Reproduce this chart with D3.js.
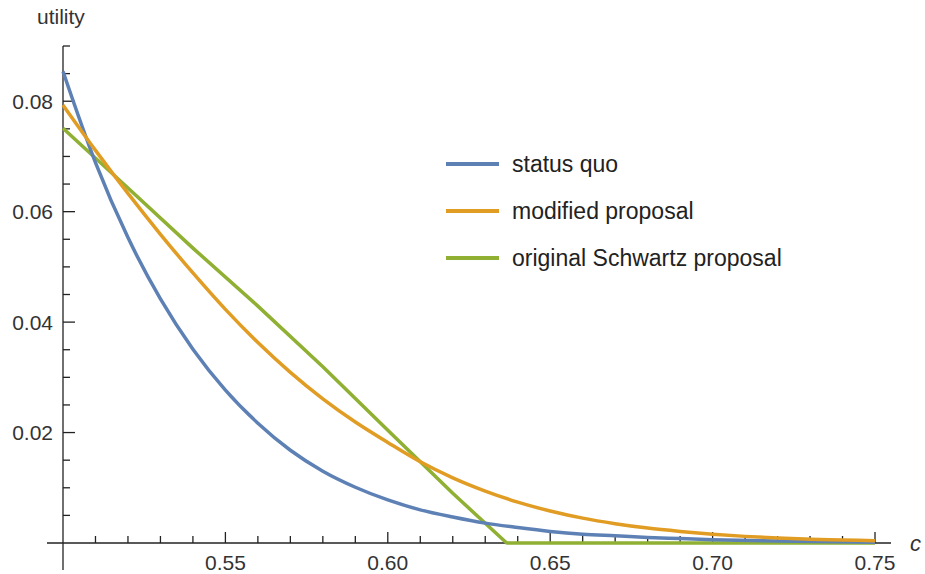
<!DOCTYPE html>
<meta charset="utf-8">
<style>
  body { margin: 0; background: #fff; }
  text { font-family: "Liberation Sans", Arial, sans-serif; }
</style>

<!-- Load d3.js -->
<script src="https://d3js.org/d3.v7.min.js"></script>

<div id="my_dataviz"></div>

<script>
// c values where curves were read
var cStatus = [0.50, 0.51, 0.52, 0.53, 0.54, 0.55, 0.56, 0.57, 0.58, 0.59, 0.60,
               0.61, 0.62, 0.63, 0.64, 0.65, 0.66, 0.67, 0.68, 0.69, 0.70, 0.72, 0.75];
var statusQuo = [0.0854, 0.0689, 0.0553, 0.0442, 0.0351, 0.0277, 0.0217, 0.0168, 0.0130, 0.0101, 0.0078,
                 0.0060, 0.0047, 0.0036, 0.0028, 0.0021, 0.0016, 0.0013, 0.0010, 0.0008, 0.0006, 0.00035, 0.00015];

var cModified = [0.50, 0.51, 0.52, 0.53, 0.54, 0.55, 0.56, 0.57, 0.58, 0.59, 0.60, 0.61, 0.62,
                 0.63, 0.64, 0.65, 0.66, 0.67, 0.68, 0.69, 0.70, 0.71, 0.72, 0.73, 0.74, 0.75];
var modified = [0.0793, 0.0711, 0.0633, 0.0559, 0.0489, 0.0423, 0.0363, 0.0309, 0.0261, 0.0219, 0.0182, 0.0147, 0.0118,
                0.0094, 0.0074, 0.0058, 0.0045, 0.0035, 0.0027, 0.0021, 0.0016, 0.0012, 0.0009, 0.0007, 0.00055, 0.0004];

var cSchwartz = [0.50, 0.52, 0.54, 0.56, 0.58, 0.60, 0.62, 0.6366, 0.75];
var schwartz = [0.0751, 0.0643, 0.0534, 0.0429, 0.0319, 0.0204, 0.0090, 0, 0];

var seriesNames = ["status quo", "modified proposal", "original Schwartz proposal"];
var seriesColors = ["#5E81B5", "#E19C24", "#8FB032"];

var xMajor = [0.55, 0.60, 0.65, 0.70, 0.75];
var yMajor = [0.02, 0.04, 0.06, 0.08];

var width = 925, height = 574;

var svg = d3.select("#my_dataviz")
  .append("svg")
    .attr("width", width)
    .attr("height", height);

var x = d3.scaleLinear().domain([0.5, 0.75]).range([63, 875]);
var y = d3.scaleLinear().domain([0, 0.09]).range([543, 46]);

// minor ticks
var xMinor = d3.range(51, 75).map(d => d / 100).filter(d => Math.round(d * 100) % 5 != 0);
var yMinor = d3.range(1, 19).filter(d => d % 4 != 0).map(d => d * 0.005);

var axisColor = "#222";

// x axis line + ticks
svg.append("line")
  .attr("x1", 47).attr("x2", 891)
  .attr("y1", y(0)).attr("y2", y(0))
  .attr("stroke", axisColor).attr("stroke-width", 1.3);

svg.append("g").selectAll("line")
  .data(xMajor.map(d => [d, 11]).concat(xMinor.map(d => [d, 7])))
  .join("line")
    .attr("x1", d => x(d[0])).attr("x2", d => x(d[0]))
    .attr("y1", y(0)).attr("y2", d => y(0) - d[1])
    .attr("stroke", axisColor).attr("stroke-width", 1.3);

svg.append("g").selectAll("text")
  .data(xMajor)
  .join("text")
    .attr("x", d => x(d))
    .attr("y", 570)
    .attr("text-anchor", "middle")
    .attr("font-size", 21)
    .attr("fill", "#333")
    .text(d => d.toFixed(2));

// y axis line + ticks
svg.append("line")
  .attr("x1", x(0.5)).attr("x2", x(0.5))
  .attr("y1", y(0.09)).attr("y2", 570)
  .attr("stroke", axisColor).attr("stroke-width", 1.3);

svg.append("g").selectAll("line")
  .data(yMajor.map(d => [d, 12]).concat(yMinor.map(d => [d, 7])))
  .join("line")
    .attr("x1", x(0.5)).attr("x2", d => x(0.5) + d[1])
    .attr("y1", d => y(d[0])).attr("y2", d => y(d[0]))
    .attr("stroke", axisColor).attr("stroke-width", 1.3);

svg.append("g").selectAll("text")
  .data(yMajor)
  .join("text")
    .attr("x", 53)
    .attr("y", d => y(d) + 7.5)
    .attr("text-anchor", "end")
    .attr("font-size", 21)
    .attr("fill", "#333")
    .text(d => d.toFixed(2));

// axis labels
svg.append("text")
  .attr("x", 37).attr("y", 24)
  .attr("font-size", 21)
  .attr("fill", "#333")
  .text("utility");

svg.append("text")
  .attr("x", 910).attr("y", 551)
  .attr("font-size", 22)
  .attr("font-style", "italic")
  .attr("fill", "#333")
  .text("c");

// curves
var allSeries = [
  cStatus.map((c, i) => [c, statusQuo[i]]),
  cModified.map((c, i) => [c, modified[i]]),
  cSchwartz.map((c, i) => [c, schwartz[i]])
];

var smooth = d3.line()
  .x(d => x(d[0]))
  .y(d => y(d[1]))
  .curve(d3.curveMonotoneX);

var straight = d3.line()
  .x(d => x(d[0]))
  .y(d => y(d[1]));

// green first so blue/orange sit above it along zero
[2, 0, 1].forEach(function(k) {
  svg.append("path")
    .datum(allSeries[k])
    .attr("fill", "none")
    .attr("stroke", seriesColors[k])
    .attr("stroke-width", 3.5)
    .attr("stroke-linejoin", "round")
    .attr("d", k == 2 ? straight : smooth);
});

// legend
var legend = svg.append("g").selectAll("g")
  .data(seriesNames)
  .join("g")
    .attr("transform", (d, i) => "translate(0," + (164 + i * 47) + ")");

legend.append("line")
  .attr("x1", 446).attr("x2", 499)
  .attr("stroke", (d, i) => seriesColors[i])
  .attr("stroke-width", 4);

legend.append("text")
  .attr("x", 512)
  .attr("y", 8)
  .attr("font-size", 23)
  .attr("fill", "#222")
  .text(d => d);
</script>
